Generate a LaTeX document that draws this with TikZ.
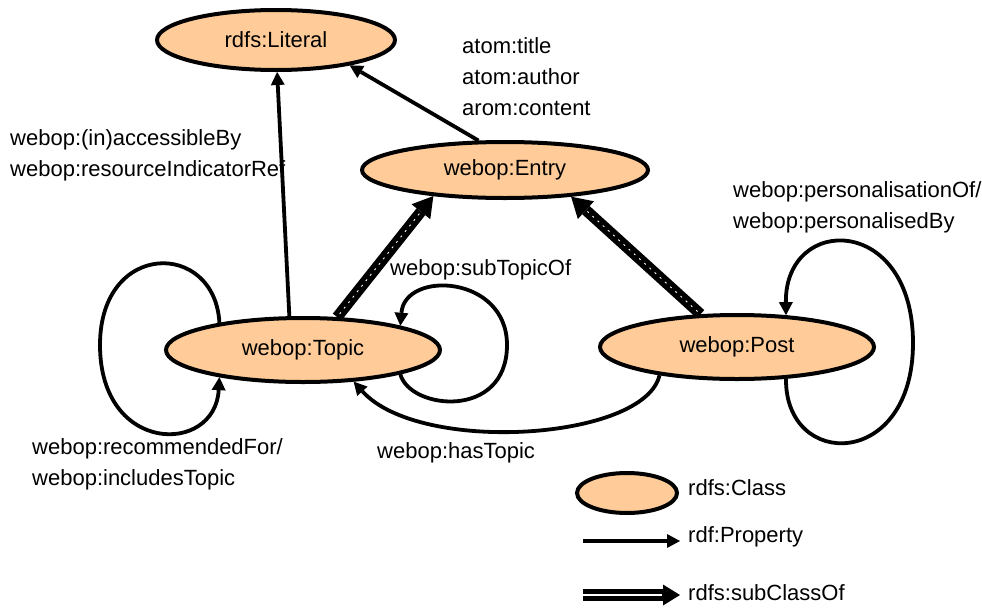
\documentclass[tikz,border=0pt]{standalone}
\usepackage{fontspec}
\setmainfont{Liberation Sans}
\usetikzlibrary{arrows.meta,shapes.geometric}

\begin{document}
\begin{tikzpicture}[x=1pt,y=-1pt,
  font=\fontsize{22}{31}\selectfont,
  cls/.style={ellipse, draw=black, line width=4pt, fill=classfill, inner sep=0pt},
  prop/.style={line width=3.8pt, -{Triangle[length=13pt,width=14pt,line width=0pt]}},
  subcls/.style={line width=11pt, -{Triangle[length=20pt,width=24pt,line width=0pt]},
    postaction={draw=white, line width=0.9pt, -, dash pattern=on 2pt off 5pt,
      shorten >=22pt, shorten <=4pt}},
  legsub/.style={line width=12pt, -{Triangle[length=17pt,width=21pt,line width=0pt]},
    postaction={draw=white, line width=2.4pt, -, shorten >=18pt}},
  lbl/.style={anchor=west, align=left, inner sep=0pt}]
\definecolor{classfill}{HTML}{FFCC99}
\useasboundingbox (0,0) rectangle (982,608);

% classes
\node[cls, minimum width=238pt, minimum height=60pt] (lit) at (276,40) {rdfs:Literal};
\node[cls, minimum width=286pt, minimum height=56pt] (e) at (505,170) {webop:Entry};
\node[cls, minimum width=274pt, minimum height=64pt] (t) at (303,350) {webop:Topic};
\node[cls, minimum width=274pt, minimum height=64pt] (p) at (737,347) {webop:Post};

% properties with literal values
\draw[prop] (t.112) -- (lit.-88);
\draw[prop] (e.132) -- (lit.-19);

% subclass relations
\draw[subcls] (t.44) -- (e.200);
\draw[subcls] (p.138) -- (e.-22);

% self-referencing properties
\draw[prop] (t.162) .. controls (215,240) and (100,240) .. (100,345)
            .. controls (100,455) and (215,455) .. (t.198);
\draw[prop] (t.-14) .. controls (410,410) and (507,420) .. (507,345)
            .. controls (507,275) and (405,270) .. (t.14);
\draw[prop] (p.-33) .. controls (785,470) and (913,470) .. (913,343)
            .. controls (913,214) and (785,214) .. (p.33);

% post to topic
\draw[prop] (p.200) .. controls (645,440) and (420,455) .. (t.-32);

% property labels
\node[lbl] (la) at (462,77) {atom:title\\atom:author\\arom:content};
\node[lbl] (lb) at (10,155) {webop:(in)accessibleBy\\webop:resourceIndicatorRef};
\node[lbl] (lc) at (733,207) {webop:personalisationOf/\\webop:personalisedBy};
\node[lbl] (ld) at (390,270) {webop:subTopicOf};
\node[lbl] (le) at (32,464) {webop:recommendedFor/\\webop:includesTopic};
\node[lbl] (lf) at (377,453) {webop:hasTopic};

% legend
\node[cls, minimum width=100pt, minimum height=40pt] (kc) at (627,493) {};
\node[lbl] (kct) at (688,488) {rdfs:Class};
\coordinate (pa) at (583,541);
\coordinate (pb) at (680,541);
\draw[prop] (pa) -- (pb);
\node[lbl] (kpt) at (688,537) {rdf:Property};
\coordinate (sa) at (583,595);
\coordinate (sb) at (680,595);
\draw[legsub] (sa) -- (sb);
\node[lbl] (kst) at (688,593) {rdfs:subClassOf};
\end{tikzpicture}
\end{document}
